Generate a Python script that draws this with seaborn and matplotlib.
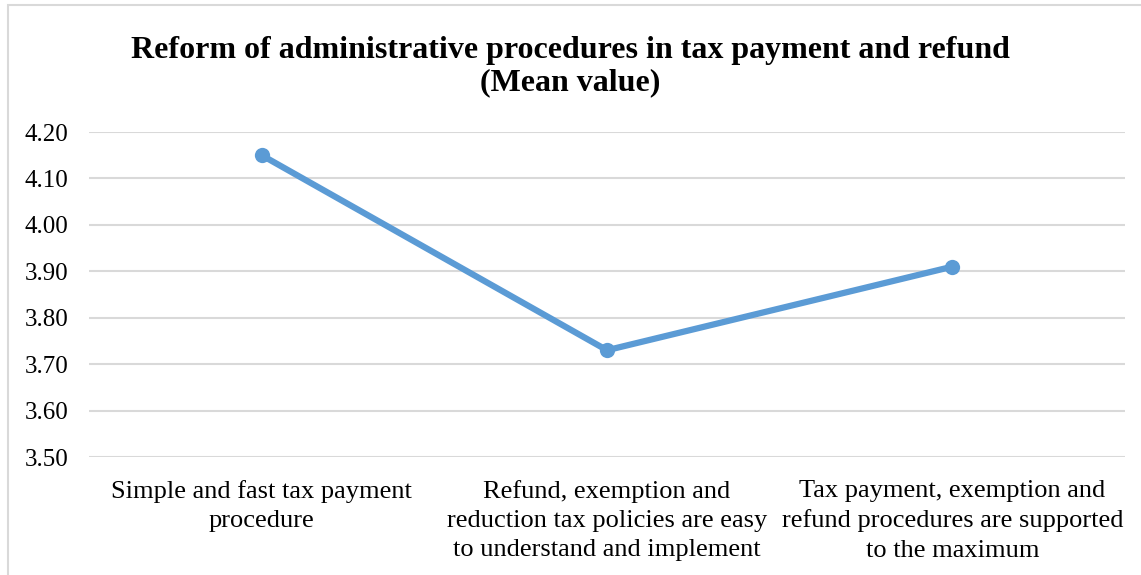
import matplotlib
matplotlib.use("Agg")
import matplotlib.pyplot as plt
import seaborn as sns
import pandas as pd
from matplotlib.patches import Rectangle

categories = [
    "Simple and fast tax payment\nprocedure",
    "Refund, exemption and\nreduction tax policies are easy\nto understand and implement",
    "Tax payment, exemption and\nrefund procedures are supported\nto the maximum",
]
mean_values = [4.15, 3.73, 3.91]
y_ticks = [3.50, 3.60, 3.70, 3.80, 3.90, 4.00, 4.10, 4.20]
title = "Reform of administrative procedures in tax payment and refund\n(Mean value)"

sns.set_theme(style="white")
plt.rcParams["font.family"] = ["Liberation Serif", "DejaVu Serif"]
plt.rcParams["text.color"] = "#000000"

df = pd.DataFrame({"cat": categories, "val": mean_values})

fig = plt.figure(figsize=(11.41, 5.75), dpi=100)
ax = fig.add_axes([0.078, 0.2052, 0.908, 0.5652])

sns.lineplot(data=df, x="cat", y="val", ax=ax, color="#5B9BD5", linewidth=4.5,
             marker="o", markersize=11, markeredgewidth=0, sort=False)

ax.set_xlim(-0.5, 2.5)
ax.set_ylim(3.50, 4.20)
ax.set_yticks(y_ticks)
ax.set_yticklabels([f"{v:.2f}" for v in y_ticks])
ax.yaxis.grid(True, color="#D9D9D9", linewidth=1.5)
ax.xaxis.grid(False)
for s in ax.spines.values():
    s.set_visible(False)
ax.tick_params(axis="y", length=0, pad=15, labelsize=18, labelcolor="#000000")
ax.tick_params(axis="x", length=0, pad=16.5, labelsize=19, labelcolor="#000000")
for lab in ax.get_xticklabels():
    lab.set_linespacing(1.42)
ax.set_xlabel("")
ax.set_ylabel("")
ax.set_axisbelow(True)

fig.text(0.5, 0.884, title, ha="center", va="center", fontsize=23,
         fontweight="bold", linespacing=1.15, color="#000000")

fig.patches.append(Rectangle((8/1141, -0.01), 1.0, 1 - 5/575 + 0.01,
                             transform=fig.transFigure, fill=False,
                             edgecolor="#D9D9D9", linewidth=1.5))

fig.savefig("out.png", dpi=100)
